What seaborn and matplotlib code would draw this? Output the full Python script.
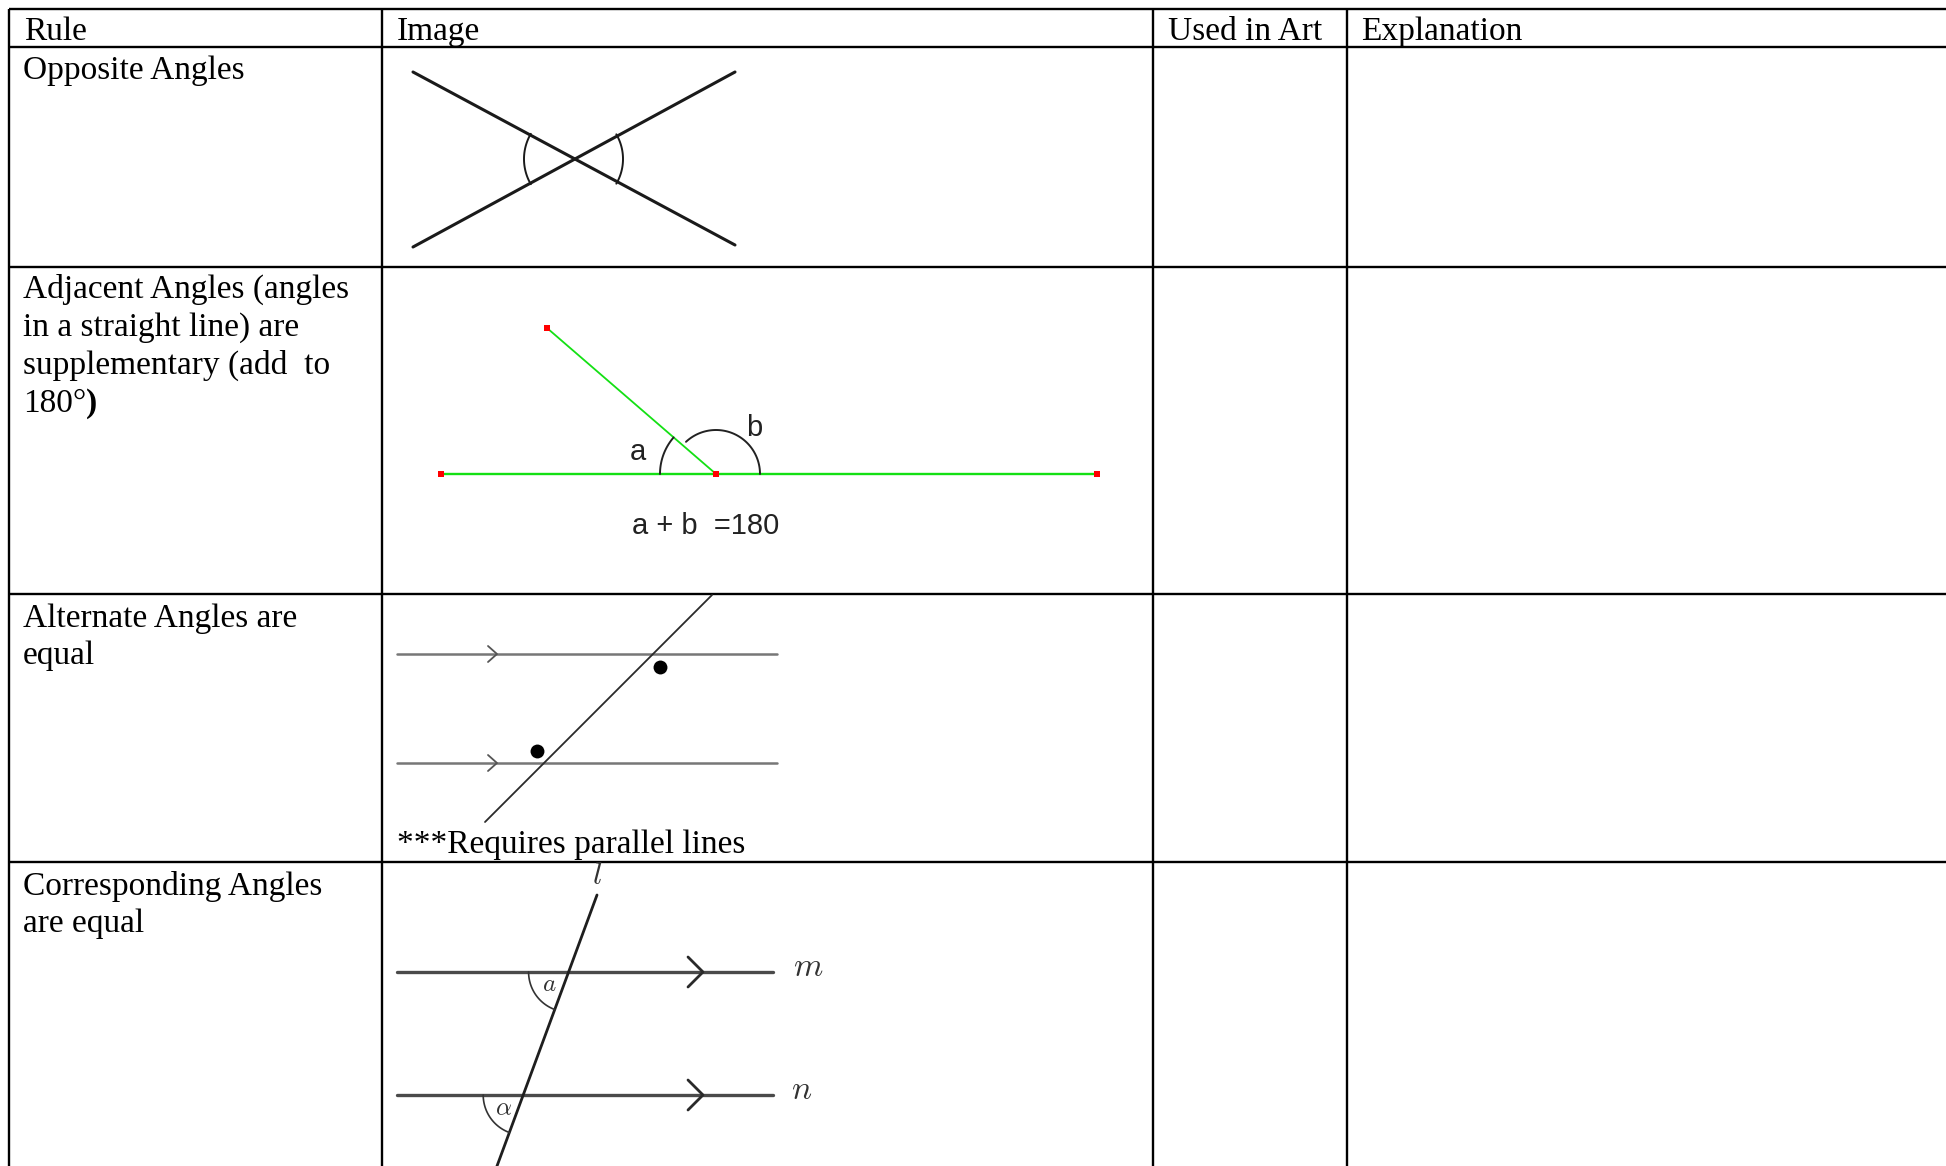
import numpy as np
import matplotlib
matplotlib.use("Agg")
import matplotlib.pyplot as plt
import seaborn as sns

# ---------------- data ----------------
HEADERS = ["Rule", "Image", "Used in Art", "Explanation"]
RULE_LINES = [
    ["Opposite Angles"],
    ["Adjacent Angles (angles", "in a straight line) are", "supplementary (add  to", "180°"],
    ["Alternate Angles are", "equal"],
    ["Corresponding Angles", "are equal"],
]
CLOSING_PAREN = ")"
NOTE_TEXT = "***Requires parallel lines"
SUM_TEXT = "a + b  =180"

# geometry of the diagrams (pixel coordinates of the reference)
OPP_LINE_A = ([413, 735], [72, 245])
OPP_LINE_B = ([413, 735], [247, 72])
ADJ_BASE = ([441, 1097], [474, 474])
ADJ_RAY = ([547, 716], [328, 474])
ADJ_POINTS_X = [441, 716, 1097, 547]
ADJ_POINTS_Y = [474, 474, 474, 328]
ALT_PARALLEL_Y = [654, 763]
ALT_TRANSVERSAL = ([485, 712], [822, 595])
ALT_DOTS_X = [660, 537]
ALT_DOTS_Y = [667, 751]
COR_PARALLEL_Y = [972, 1095]
COR_TRANSVERSAL = ([597, 490], [895, 1185])

# ---------------- figure ----------------
sns.set_theme(style="white")
plt.rcParams["font.family"] = ["Liberation Serif", "DejaVu Serif"]
plt.rcParams["mathtext.fontset"] = "cm"

W, H = 1946, 1166
fig = plt.figure(figsize=(W / 100, H / 100), dpi=100)
ax = fig.add_axes([0, 0, 1, 1])
ax.set_xlim(0, W)
ax.set_ylim(H, 0)
ax.axis("off")
fig.patch.set_facecolor("white")

# ---------------- table grid ----------------
col_edges = [9, 382, 1153, 1347]
row_edges = [9, 47, 267, 594, 862]
for x in col_edges:
    ax.plot([x, x], [row_edges[0], H], color="black", lw=1.7, solid_capstyle="butt")
for y in row_edges:
    ax.plot([col_edges[0], W], [y, y], color="black", lw=1.7, solid_capstyle="butt")

# header
head_x = [24, 397, 1168, 1361]
for t, x in zip(HEADERS, head_x):
    ax.text(x, 40, t, fontsize=24, va="baseline", ha="left", color="black")

# rule texts
baselines = [[79], [298, 336, 374, 412], [627, 664], [895, 932]]
last_txt = None
for lines, bls in zip(RULE_LINES, baselines):
    for t, b in zip(lines, bls):
        tx = ax.text(23, b, t, fontsize=24, va="baseline", ha="left", color="black")
        if t == "180°":
            last_txt = tx

fig.canvas.draw()
bb = last_txt.get_window_extent(renderer=fig.canvas.get_renderer())
x_end = ax.transData.inverted().transform((bb.x1, bb.y0))[0]
ax.text(x_end, 412, CLOSING_PAREN, fontsize=24, fontweight="bold",
        va="baseline", ha="left", color="black")


def arc(cx, cy, rx, ry, t0, t1, **kw):
    t = np.radians(np.linspace(t0, t1, 60))
    ax.plot(cx + rx * np.cos(t), cy - ry * np.sin(t), **kw)


# ---------------- diagram 1 : opposite angles ----------------
dark = "#1a1a1a"
ax.plot(*OPP_LINE_A, color=dark, lw=2.2, solid_capstyle="round")
ax.plot(*OPP_LINE_B, color=dark, lw=2.2, solid_capstyle="round")
cx, cy = 574, 159
ang = np.degrees(np.arctan2(173, 322))
arc(cx, cy, 50, 50, 180 - ang - 2, 180 + ang + 2, color=dark, lw=1.4)
arc(cx, cy, 49, 49, -ang - 2, ang + 2, color=dark, lw=1.4)

# ---------------- diagram 2 : adjacent angles ----------------
green = "#14e014"
ax.plot(*ADJ_BASE, color=green, lw=1.7)
ax.plot(*ADJ_RAY, color=green, lw=1.3)
sns.scatterplot(x=ADJ_POINTS_X, y=ADJ_POINTS_Y, ax=ax, color="red", marker="s",
                s=14, linewidth=0, zorder=5)
ray_ang = np.degrees(np.arctan2(474 - 328, 716 - 547))
arc(716, 474, 56, 56, 180 - ray_ang, 180, color="#222", lw=1.4)
arc(716, 474, 44, 44, 0, 133, color="#222", lw=1.4)
ax.text(638, 452, "a", fontsize=21, family="Liberation Sans", ha="center", va="center", color="#222")
ax.text(754, 428, "b", fontsize=21, family="Liberation Sans", ha="center", va="center", color="#222")
ax.text(632, 526, SUM_TEXT, fontsize=21, family="Liberation Sans", ha="left", va="center", color="#222")

# ---------------- diagram 3 : alternate angles ----------------
grey = "#777777"
for y in ALT_PARALLEL_Y:
    ax.plot([397, 777], [y, y], color=grey, lw=1.8)
    ax.plot([488, 497, 488], [y - 8, y, y + 8], color="#555", lw=1.3)
ax.plot(*ALT_TRANSVERSAL, color="#2a2a2a", lw=1.3)
sns.scatterplot(x=ALT_DOTS_X, y=ALT_DOTS_Y, ax=ax, color="black", s=100, linewidth=0, zorder=5)
ax.text(397, 853, NOTE_TEXT, fontsize=24, va="baseline", ha="left", color="black")

# ---------------- diagram 4 : corresponding angles ----------------
g2 = "#4a4a4a"
for y in COR_PARALLEL_Y:
    ax.plot([397, 773], [y, y], color=g2, lw=2.4)
    ax.plot([688, 703, 688], [y - 15, y, y + 15], color="#2a2a2a", lw=2.0)
ax.plot(*COR_TRANSVERSAL, color="#1e1e1e", lw=2.0)
tdir = np.degrees(np.arctan2(-(1185 - 895), 490 - 597)) % 360
ix_m = 597 + (972 - 895) * (490 - 597) / (1185 - 895)
ix_n = 597 + (1095 - 895) * (490 - 597) / (1185 - 895)
arc(ix_m, 972, 40, 40, 180, tdir, color="#333", lw=1.2)
arc(ix_n, 1095, 40, 40, 180, tdir, color="#333", lw=1.2)
ax.text(597, 877, r"$l$", fontsize=23, ha="center", va="center", color="#333")
ax.text(808, 968, r"$m$", fontsize=24, ha="center", va="center", color="#333")
ax.text(802, 1091, r"$n$", fontsize=24, ha="center", va="center", color="#333")
ax.text(549, 985, r"$a$", fontsize=18, ha="center", va="center", color="#333")
ax.text(504, 1109, r"$\alpha$", fontsize=18, ha="center", va="center", color="#333")

fig.savefig("out.png", dpi=100, facecolor="white")
